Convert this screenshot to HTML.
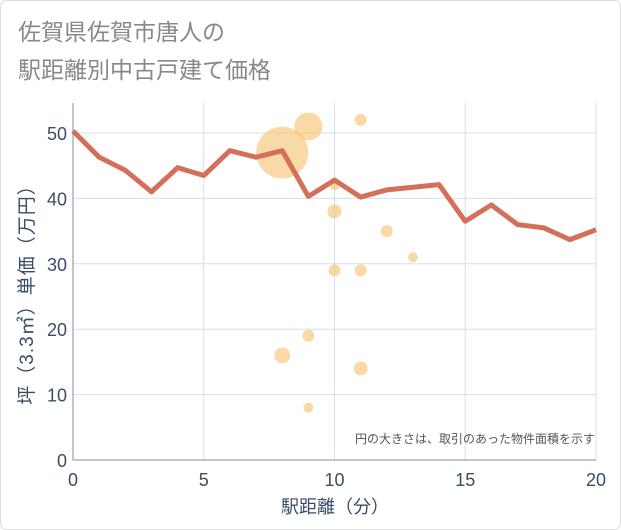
<!DOCTYPE html>
<html><head><meta charset="utf-8"><style>
body{margin:0;background:#fff}
svg{display:block;font-family:"Liberation Sans","Noto Sans CJK JP",sans-serif}
</style></head><body>
<svg id="c" width="621" height="530">
<rect x="0.5" y="0.5" width="620" height="529" rx="6" fill="#fff" stroke="#ddd"/>
<text x="18" y="40" font-size="23" fill="#888">佐賀県佐賀市唐人の</text>
<text x="18" y="78" font-size="23" fill="#888">駅距離別中古戸建て価格</text>
<g id="grid"></g><g id="bubbles"></g><g id="line"></g><g id="axes"></g>
<text x="595" y="443" font-size="12" fill="#555" text-anchor="end">円の大きさは、取引のあった物件面積を示す</text>
<text x="335" y="513" font-size="18" fill="#3a4d66" text-anchor="middle">駅距離（分）</text>
<text transform="translate(33,290) rotate(-90)" font-size="19" letter-spacing="1" fill="#3a4d66" text-anchor="middle">坪（3.3㎡）単価（万円）</text>
</svg>
<script>
const lineX=[0,1,2,3,4,5,6,7,8,9,10,11,12,13,14,15,16,17,18,19,20];
const lineY=[50.3,46.3,44.3,41,44.7,43.5,47.3,46.3,47.3,40.3,42.8,40.2,41.3,41.7,42.1,36.5,39,36,35.5,33.7,35.2];
const bubX=[8,9,11,10,10,12,13,10,11,9,8,11,9];
const bubY=[47,51,52,42,38,35,31,29,29,19,16,14,8];
const bubR=[26,14,6,5,7,6,5,6,6,6,8,7,5];
const xTicks=[0,5,10,15,20];
const yTicks=[0,10,20,30,40,50];
const L=73,R=596,T=103,B=460;
const sx=v=>L+(R-L)*v/20, sy=v=>B-(B-133)*v/50;
const NS="http://www.w3.org/2000/svg";
function mk(p,t,a){const e=document.createElementNS(NS,t);for(const k in a)e.setAttribute(k,a[k]);p.appendChild(e);return e;}
const g=document.getElementById('grid'),ax=document.getElementById('axes');
yTicks.forEach(v=>{const l=mk(g,'line',{x1:L,x2:R,y1:sy(v),y2:sy(v),stroke:'#d5dfe9'});

const t=mk(ax,'text',{x:L-6,y:sy(v)+7,'font-size':18,fill:'#3a4d66','text-anchor':'end'});t.textContent=v;
});
xTicks.forEach(v=>{const l=mk(g,'line',{x1:sx(v),x2:sx(v),y1:T,y2:B,stroke:'#d5dfe9'});

const t=mk(ax,'text',{x:sx(v),y:B+26,'font-size':18,fill:'#3a4d66','text-anchor':'middle'});t.textContent=v;
});
const fr=mk(ax,'path',{d:`M${L},${T}V${B}H${R}`,fill:'none',stroke:'#889'});

const bg=document.getElementById('bubbles');
bubX.forEach((x,i)=>{const c=mk(bg,'circle',{cx:sx(x),cy:sy(bubY[i]),r:bubR[i],fill:'#f5c26b','fill-opacity':0.6});
});
const p=mk(document.getElementById('line'),'polyline',{points:lineX.map((x,i)=>sx(x)+','+sy(lineY[i])).join(' '),fill:'none',stroke:'#d4705a','stroke-width':5,'stroke-linejoin':'round'});

</script>
</body></html>
